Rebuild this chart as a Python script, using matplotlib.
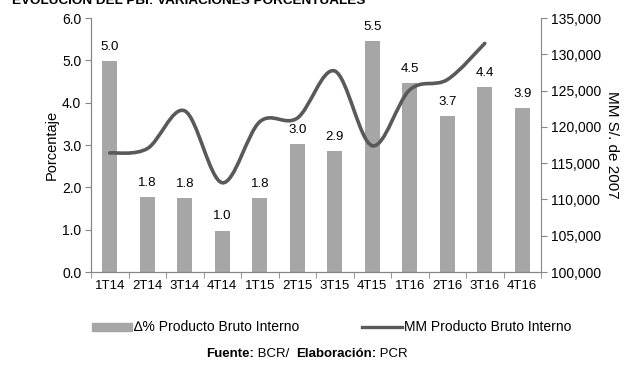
import matplotlib.pyplot as plt
from matplotlib.path import Path
from matplotlib.patches import PathPatch
from matplotlib.ticker import FuncFormatter, FixedLocator

plt.rcParams['font.family'] = ['Liberation Sans', 'DejaVu Sans']

# quarters and data
quarters = ['1T14', '2T14', '3T14', '4T14', '1T15', '2T15', '3T15', '4T15',
            '1T16', '2T16', '3T16', '4T16']
pbi_var = [4.98, 1.77, 1.75, 0.98, 1.75, 3.02, 2.86, 5.46, 4.46, 3.68, 4.36, 3.87]
pbi_mm = [116400, 117000, 122200, 112300, 120700, 121200, 127700, 117400,
          125100, 126500, 131500]

bar_color = '#a6a6a6'
line_color = '#595959'
spine_color = '#868686'

fig = plt.figure(figsize=(6.29, 3.65), dpi=100)
ax = fig.add_axes([91/629, 1 - 272/365, (541 - 91)/629, (272 - 18)/365])
ax2 = ax.twinx()

x = list(range(len(quarters)))
ax.bar(x, pbi_var, width=0.4, color=bar_color, zorder=2)
for xi, v in zip(x, pbi_var):
    ax.annotate(f'{v:.1f}', (xi, v), xytext=(0, 6), textcoords='offset points',
                ha='center', va='bottom', fontsize=9.5)

# smoothed line (Excel-like), drawn as bezier segments through the points
xs = x[:len(pbi_mm)]
verts = [(xs[0], pbi_mm[0])]
codes = [Path.MOVETO]
n = len(pbi_mm)
for i in range(n - 1):
    p0 = (xs[max(i - 1, 0)], pbi_mm[max(i - 1, 0)])
    p1 = (xs[i], pbi_mm[i])
    p2 = (xs[i + 1], pbi_mm[i + 1])
    p3 = (xs[min(i + 2, n - 1)], pbi_mm[min(i + 2, n - 1)])
    c1 = (p1[0] + (p2[0] - p0[0]) / 6, p1[1] + (p2[1] - p0[1]) / 6)
    c2 = (p2[0] - (p3[0] - p1[0]) / 6, p2[1] - (p3[1] - p1[1]) / 6)
    verts += [c1, c2, p2]
    codes += [Path.CURVE4] * 3
ax2.add_patch(PathPatch(Path(verts, codes), facecolor='none', edgecolor=line_color,
                        lw=2.6, capstyle='round', zorder=3))

ax.set_xlim(-0.5, len(quarters) - 0.5)
ax.set_ylim(0, 6)
ax2.set_ylim(100000, 135000)
ax.set_yticks([0, 1, 2, 3, 4, 5, 6])
ax.yaxis.set_major_formatter(FuncFormatter(lambda v, p: f'{v:.1f}'))
ax2.set_yticks(range(100000, 135001, 5000))
ax2.yaxis.set_major_formatter(FuncFormatter(lambda v, p: f'{int(v):,}'))

ax.set_xticks(x)
ax.set_xticklabels(quarters)
ax.xaxis.set_minor_locator(FixedLocator([i - 0.5 for i in range(len(quarters) + 1)]))
ax.tick_params(axis='x', which='major', length=0, pad=6, labelsize=9.5)
ax.tick_params(axis='x', which='minor', length=4, color=spine_color)
ax.tick_params(axis='y', length=4, color=spine_color, labelsize=10, pad=3)
ax2.tick_params(axis='y', length=4, color=spine_color, labelsize=10, pad=3)

for a in (ax, ax2):
    a.spines['top'].set_visible(False)
    for s in ('left', 'right', 'bottom'):
        a.spines[s].set_color(spine_color)
ax.spines['right'].set_visible(False)

ax.set_ylabel('Porcentaje', fontsize=10.5, labelpad=2)
ax2.set_ylabel('MM S/. de 2007', fontsize=11, rotation=-90, labelpad=13)

# title, clipped at the top edge as in the source
fig.text(12/629, 1 - 1/365, 'EVOLUCIÓN DEL PBI: VARIACIONES PORCENTUALES',
         fontsize=9.7, fontweight='bold', ha='left', va='center')

# legend drawn by hand
lx = fig.add_axes([0, 0, 1, 1], facecolor='none')
lx.set_xlim(0, 629)
lx.set_ylim(365, 0)
lx.axis('off')
lx.add_patch(plt.Rectangle((92, 323), 40, 8, color=bar_color))
lx.text(134, 327, '∆% Producto Bruto Interno', fontsize=10, va='center', ha='left')
lx.plot([362, 402], [327, 327], color=line_color, lw=2.4)
lx.text(404, 327, 'MM Producto Bruto Interno', fontsize=10, va='center', ha='left')

# source line, pieces chained one after the other
t = lx.text(206, 354, 'Fuente:', fontsize=9.5, fontweight='bold', va='center')
t = lx.annotate(' BCR/  ', xy=(1, 0.5), xycoords=t, fontsize=9.5, va='center')
t = lx.annotate('Elaboración:', xy=(1, 0.5), xycoords=t, fontsize=9.5,
                fontweight='bold', va='center')
lx.annotate(' PCR', xy=(1, 0.5), xycoords=t, fontsize=9.5, va='center')

fig.savefig('out.png', dpi=100)
